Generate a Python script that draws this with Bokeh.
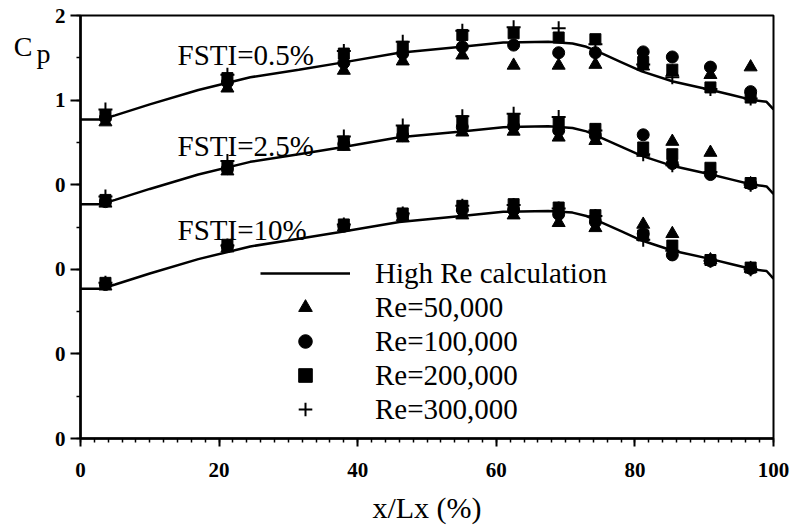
from bokeh.plotting import figure
from bokeh.models import (Range1d, SingleIntervalTicker, FixedTicker, LinearAxis, Legend,
                          LegendItem, Label, ColumnDataSource)
from bokeh.embed import file_html
from bokeh.resources import INLINE

# ---------------- data ----------------
# measurement stations (x/Lx, %)
x_meas = [3.6, 21.2, 38.0, 46.5, 55.1, 62.5, 69.0, 74.3, 81.2, 85.4, 90.9, 96.7]

# high Re calculation (same curve for all FSTI levels)
x_calc = [0, 3, 5, 10, 17, 24.5, 31.5, 37.5, 46, 55, 61, 67.5, 71, 73, 75, 78, 81,
          85.5, 91, 94, 97, 99, 100]
cp_calc = [0.77, 0.77, 0.82, 0.95, 1.12, 1.27, 1.36, 1.44, 1.56, 1.63, 1.68, 1.69,
           1.67, 1.63, 1.56, 1.45, 1.34, 1.22, 1.12, 1.06, 1.00, 0.98, 0.89]

fsti_labels = ["FSTI=0.5%", "FSTI=2.5%", "FSTI=10%"]
fsti_offsets = [3, 2, 1]   # vertical shift of each FSTI group

# Cp per Reynolds number, one list per FSTI level (0.5%, 2.5%, 10%)
re50k = [
    [0.74, 1.14, 1.35, 1.46, 1.53, 1.41, 1.41, 1.42, 1.40, 1.33, 1.30, 1.39],
    [0.78, 1.16, 1.45, 1.55, 1.62, 1.63, 1.56, 1.52, 1.38, 1.51, 1.38, 1.01],
    [0.80, 1.25, 1.50, 1.62, 1.64, 1.64, 1.55, 1.49, 1.53, 1.42, 1.11, 1.01],
]
re100k = [
    [0.79, 1.21, 1.44, 1.55, 1.63, 1.65, 1.56, 1.56, 1.57, 1.51, 1.39, 1.10],
    [0.80, 1.19, 1.48, 1.58, 1.68, 1.69, 1.64, 1.58, 1.59, 1.25, 1.12, 1.01],
    [0.82, 1.27, 1.51, 1.64, 1.70, 1.70, 1.65, 1.56, 1.42, 1.17, 1.10, 1.01],
]
re200k = [
    [0.82, 1.26, 1.55, 1.63, 1.77, 1.79, 1.74, 1.72, 1.45, 1.36, 1.15, 1.03],
    [0.82, 1.21, 1.51, 1.63, 1.75, 1.77, 1.73, 1.66, 1.44, 1.36, 1.20, 1.02],
    [0.84, 1.29, 1.53, 1.66, 1.75, 1.77, 1.73, 1.64, 1.40, 1.28, 1.11, 1.02],
]
re300k = [
    [0.89, 1.30, 1.58, 1.69, 1.82, 1.86, 1.85, 1.66, 1.42, 1.27, 1.13, 1.02],
    [0.86, 1.28, 1.57, 1.70, 1.81, 1.84, 1.80, 1.64, 1.36, 1.23, 1.15, 1.00],
    [0.84, 1.28, 1.53, 1.66, 1.75, 1.76, 1.72, 1.63, 1.35, 1.22, 1.10, 1.00],
]

y_tick_labels = {0: "0", 1: "0", 2: "0", 3: "0", 4: "1", 5: "2"}

SERIF = "Liberation Serif"

# ---------------- figure ----------------
p = figure(width=795, height=529, output_backend="svg", toolbar_location=None,
           x_range=Range1d(0, 100), y_range=Range1d(0, 5),
           min_border_left=80, min_border_right=22, min_border_top=15,
           min_border_bottom=91)
p.background_fill_color = "white"
p.border_fill_color = "white"
p.outline_line_color = "black"
p.outline_line_width = 2
p.grid.visible = False

# calculation curves
xs = [x_calc for _ in fsti_offsets]
ys = [[c + off for c in cp_calc] for off in fsti_offsets]
calc_r = p.multi_line(xs=xs, ys=ys, line_color="black", line_width=2.5)


def shifted(series):
    xx, yy = [], []
    for vals, off in zip(series, fsti_offsets):
        xx += x_meas
        yy += [v + off for v in vals]
    return ColumnDataSource(dict(x=xx, y=yy))


r50 = p.scatter("x", "y", source=shifted(re50k), marker="triangle", size=13,
                color="black")
r100 = p.scatter("x", "y", source=shifted(re100k), marker="circle", size=12,
                 color="black")
r200 = p.scatter("x", "y", source=shifted(re200k), marker="square", size=11,
                 color="black")
r300 = p.scatter("x", "y", source=shifted(re300k), marker="cross", size=14,
                 line_color="black", line_width=2)

# axes
p.xaxis.ticker = SingleIntervalTicker(interval=20, num_minor_ticks=10)
p.yaxis.ticker = SingleIntervalTicker(interval=1, num_minor_ticks=2)
p.yaxis.major_label_overrides = y_tick_labels
for ax in (p.xaxis[0], p.yaxis[0]):
    ax.axis_line_width = 2.5
    ax.axis_line_color = "black"
    ax.major_tick_line_width = 2
    ax.minor_tick_line_width = 1.5
    ax.major_tick_in = 0
    ax.minor_tick_in = 0
    ax.major_label_text_font = SERIF
    ax.major_label_text_font_style = "bold"
    ax.major_label_text_font_size = "21px"
    ax.major_label_text_color = "black"
p.xaxis.major_tick_out = 8
p.xaxis.minor_tick_out = 4
p.xaxis.major_label_standoff = 16
p.yaxis.major_tick_out = 10
p.yaxis.minor_tick_out = 4
p.yaxis.major_label_standoff = 5

p.xaxis.axis_label = "x/Lx (%)"
p.xaxis.axis_label_text_font = SERIF
p.xaxis.axis_label_text_font_style = "normal"
p.xaxis.axis_label_text_font_size = "30px"
p.xaxis.axis_label_standoff = 11
p.xaxis.axis_label_text_color = "black"


# "Cp" quantity label at the top left, built from two label-only axes
def label_axis(tick, text, standoff):
    ax = LinearAxis(ticker=FixedTicker(ticks=[tick]),
                    major_label_overrides={tick: text})
    ax.axis_line_color = None
    ax.major_tick_line_color = None
    ax.minor_tick_line_color = None
    ax.major_tick_out = 0
    ax.major_tick_in = 0
    ax.minor_tick_out = 0
    ax.minor_tick_in = 0
    ax.major_label_standoff = standoff
    ax.major_label_text_font = SERIF
    ax.major_label_text_font_size = "28px"
    ax.major_label_text_color = "black"
    return ax


p.add_layout(label_axis(4.55, "p", 1), "left")
p.add_layout(label_axis(4.63, "C", 1), "left")

# FSTI labels
for lab, ypos in zip(fsti_labels, [4.53, 3.46, 2.46]):
    p.add_layout(Label(x=14.0, y=ypos, text=lab, text_font=SERIF,
                       text_font_size="29px", text_baseline="alphabetic",
                       text_align="left", text_color="black"))

legend = Legend(items=[
    LegendItem(label="High Re calculation", renderers=[calc_r]),
    LegendItem(label="Re=50,000", renderers=[r50]),
    LegendItem(label="Re=100,000", renderers=[r100]),
    LegendItem(label="Re=200,000", renderers=[r200]),
    LegendItem(label="Re=300,000", renderers=[r300]),
], location=(180, 12), glyph_width=90, glyph_height=34, label_height=34,
    label_standoff=25, spacing=0, padding=0, margin=0,
    border_line_alpha=0, background_fill_alpha=0,
    label_text_font=SERIF, label_text_font_size="29px", label_text_color="black")
p.add_layout(legend)

open("out.html", "w").write(file_html(p, INLINE))
